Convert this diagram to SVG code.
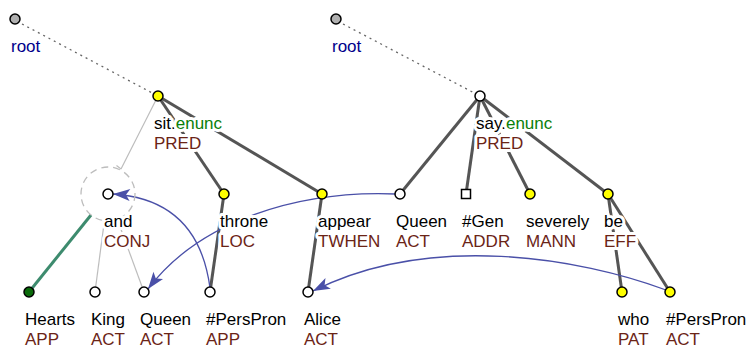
<svg xmlns="http://www.w3.org/2000/svg" width="752" height="345" viewBox="0 0 752 345">
  <defs>
    <marker id="coref-head" markerUnits="userSpaceOnUse" markerWidth="20" markerHeight="14" viewBox="-18 -7 20 14" refX="0" refY="0" orient="auto">
      <path d="M0,0 L-17,-6 L-13,0 L-17,6 Z" fill="#4a50a8"/>
    </marker>
    <style>
      text { font-family: "Liberation Sans", Arial, sans-serif; font-size: 17px; stroke: #fff; stroke-width: 6px; stroke-linejoin: round; paint-order: stroke; }
      .w { fill: #000; }
      .f { fill: #6b2416; }
      .g { fill: #0a800a; }
      .r { fill: #00008b; }
      .edge { stroke: #555; stroke-width: 3; fill: none; }
      .thin { stroke: #bdbdbd; stroke-width: 1.2; fill: none; }
      .root-edge { stroke: #666; stroke-width: 1.3; stroke-dasharray: 2 4; fill: none; }
      .member { stroke: #3d8b6e; stroke-width: 3; fill: none; }
      .coref { stroke: #4a50a8; stroke-width: 1.3; fill: none; marker-end: url(#coref-head); }
      .n { stroke: #000; stroke-width: 1.5; }
      .yel { fill: #ffff00; }
      .wht { fill: #fff; }
      .gry { fill: #b0b0b0; }
      .grn { fill: #0a6a0a; }
      .coord { fill: none; stroke: #bdbdbd; stroke-width: 1.3; stroke-dasharray: 7 5; }
    </style>
  </defs>

  <g id="connectors">
    <!-- root links -->
    <path class="root-edge" d="M22,24 L158,96"/>
    <path class="root-edge" d="M343,24 L480,96"/>
    <!-- first tree -->
    <path class="thin" d="M158,96 L121,169 M121,169 L116.5,165.5"/>
    <path class="edge" d="M158,96 L224,194"/>
    <path class="edge" d="M158,96 L322,194"/>
    <path class="member" d="M91,215 L29,292"/>
    <path class="thin" d="M104.4,220.8 L95,292"/>
    <path class="thin" d="M117.3,219.3 L144,292"/>
    <path class="edge" d="M224,194 L210,292"/>
    <path class="edge" d="M322,194 L308,292"/>
    <!-- second tree -->
    <path class="edge" d="M480,96 L400,194"/>
    <path class="edge" d="M480,96 L466,194"/>
    <path class="edge" d="M480,96 L530,194"/>
    <path class="edge" d="M480,96 L608,194"/>
    <path class="edge" d="M608,194 L622,292"/>
    <path class="edge" d="M608,194 L670,292"/>
    <!-- coreference arrows -->
    <path class="coref" d="M210,288 C203,235 175,198 113,194"/>
    <path class="coref" d="M396,194 C300,190 200,220 148,289"/>
    <path class="coref" d="M666,290 C580,258 430,232 313,291"/>
  </g>

  <g id="root-1">
    <circle class="n gry" cx="15" cy="19" r="5"/>
    <text x="11" y="52" class="r">root</text>
  </g>
  <g id="sit">
    <circle class="n yel" cx="158" cy="96" r="5"/>
    <text x="154" y="129" class="w">sit.<tspan class="g">enunc</tspan></text>
    <text x="154" y="149" class="f">PRED</text>
  </g>
  <g id="and">
    <circle class="coord" cx="108" cy="194" r="27"/>
    <circle class="n wht" cx="108" cy="194" r="5"/>
    <text x="104" y="227" class="w">and</text>
    <text x="104" y="247" class="f">CONJ</text>
  </g>
  <g id="throne">
    <circle class="n yel" cx="224" cy="194" r="5"/>
    <text x="220" y="227" class="w">throne</text>
    <text x="220" y="247" class="f">LOC</text>
  </g>
  <g id="appear">
    <circle class="n yel" cx="322" cy="194" r="5"/>
    <text x="318" y="227" class="w">appear</text>
    <text x="318" y="247" class="f">TWHEN</text>
  </g>
  <g id="hearts">
    <circle class="n grn" cx="29" cy="292" r="5"/>
    <text x="25" y="325" class="w">Hearts</text>
    <text x="25" y="345" class="f">APP</text>
  </g>
  <g id="king">
    <circle class="n wht" cx="95" cy="292" r="5"/>
    <text x="91" y="325" class="w">King</text>
    <text x="91" y="345" class="f">ACT</text>
  </g>
  <g id="queen-1">
    <circle class="n wht" cx="144" cy="292" r="5"/>
    <text x="140" y="325" class="w">Queen</text>
    <text x="140" y="345" class="f">ACT</text>
  </g>
  <g id="perspron-1">
    <circle class="n wht" cx="210" cy="292" r="5"/>
    <text x="206" y="325" class="w">#PersPron</text>
    <text x="206" y="345" class="f">APP</text>
  </g>
  <g id="alice">
    <circle class="n wht" cx="308" cy="292" r="5"/>
    <text x="304" y="325" class="w">Alice</text>
    <text x="304" y="345" class="f">ACT</text>
  </g>

  <g id="root-2">
    <circle class="n gry" cx="336" cy="19" r="5"/>
    <text x="332" y="52" class="r">root</text>
  </g>
  <g id="say">
    <circle class="n wht" cx="480" cy="96" r="5"/>
    <text x="476" y="129" class="w">say.<tspan class="g">enunc</tspan></text>
    <text x="476" y="149" class="f">PRED</text>
  </g>
  <g id="queen-2">
    <circle class="n wht" cx="400" cy="194" r="5"/>
    <text x="396" y="227" class="w">Queen</text>
    <text x="396" y="247" class="f">ACT</text>
  </g>
  <g id="gen">
    <rect class="n wht" x="461.5" y="189.5" width="9" height="9"/>
    <text x="462" y="227" class="w">#Gen</text>
    <text x="462" y="247" class="f">ADDR</text>
  </g>
  <g id="severely">
    <circle class="n yel" cx="530" cy="194" r="5"/>
    <text x="526" y="227" class="w">severely</text>
    <text x="526" y="247" class="f">MANN</text>
  </g>
  <g id="be">
    <circle class="n yel" cx="608" cy="194" r="5"/>
    <text x="604" y="227" class="w">be</text>
    <text x="604" y="247" class="f">EFF</text>
  </g>
  <g id="who">
    <circle class="n yel" cx="622" cy="292" r="5"/>
    <text x="618" y="325" class="w">who</text>
    <text x="618" y="345" class="f">PAT</text>
  </g>
  <g id="perspron-2">
    <circle class="n yel" cx="670" cy="292" r="5"/>
    <text x="666" y="325" class="w">#PersPron</text>
    <text x="666" y="345" class="f">ACT</text>
  </g>
</svg>
